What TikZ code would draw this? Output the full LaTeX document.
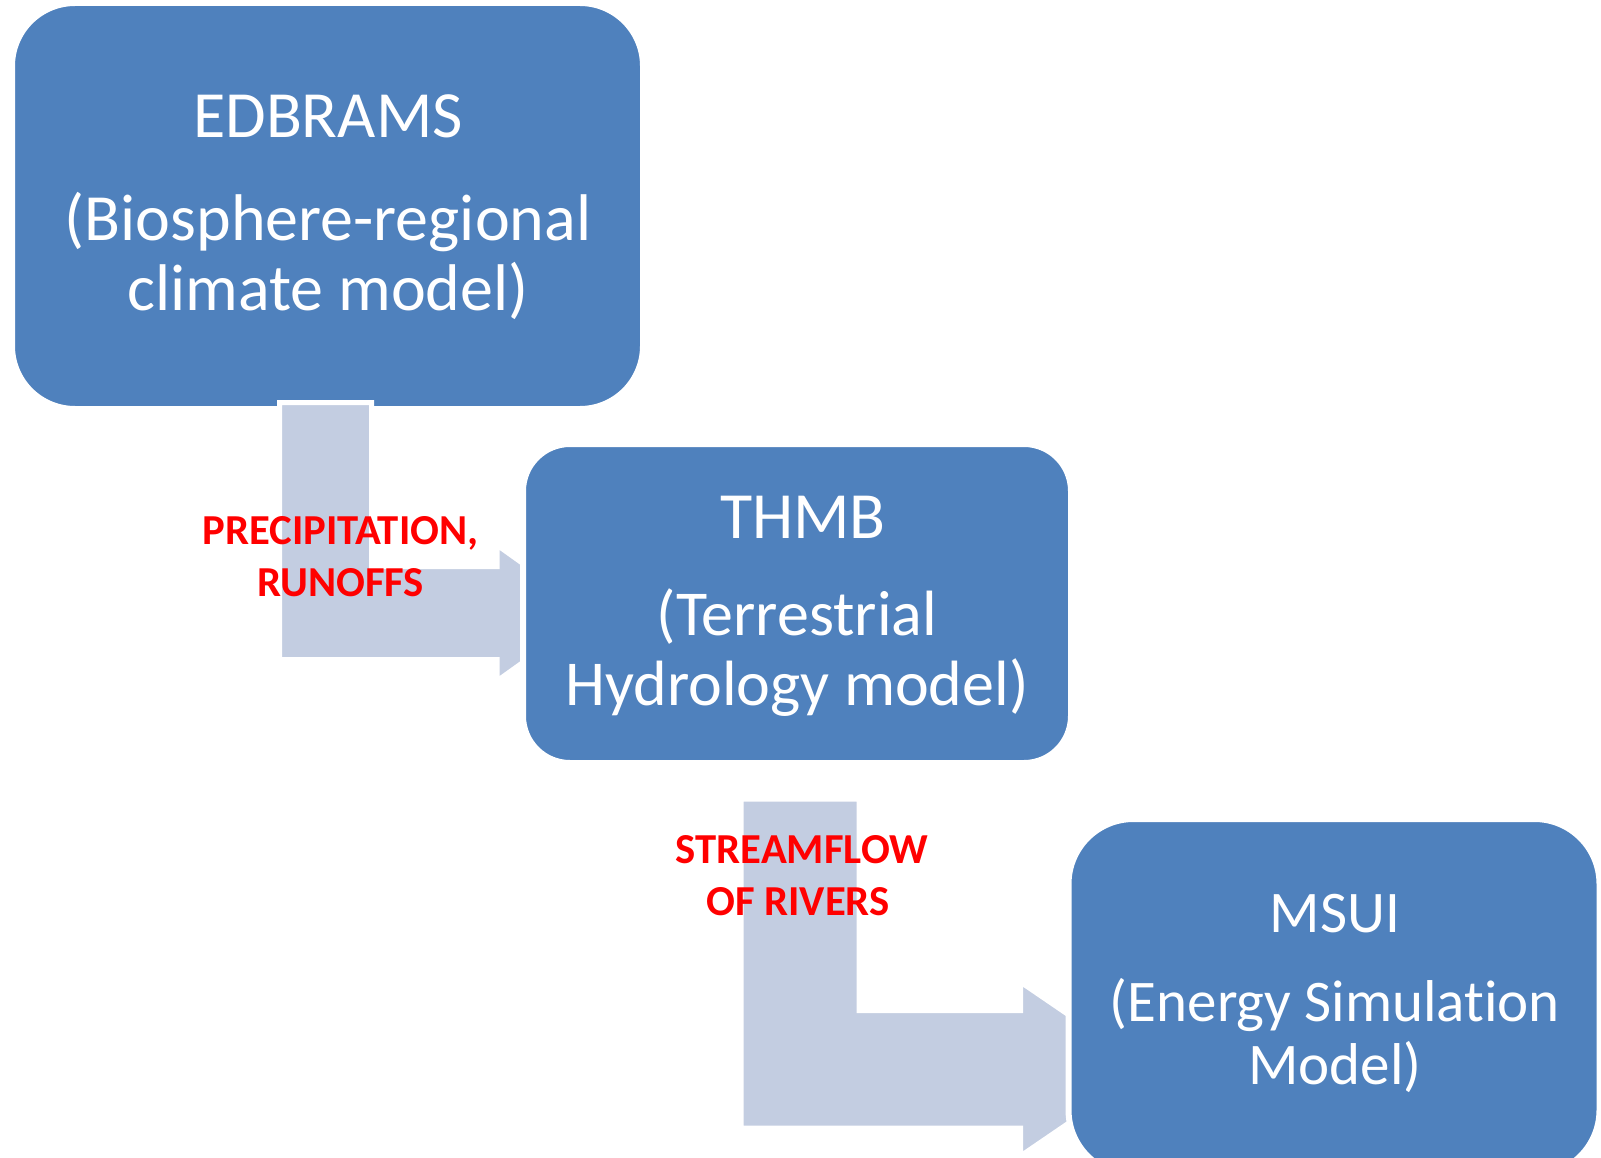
\documentclass[tikz,border=0pt]{standalone}
\usepackage{fontspec}
\setmainfont{Carlito}[Ligatures={NoCommon}]
\definecolor{boxblue}{HTML}{4F81BD}
\definecolor{arrowfill}{HTML}{C3CDE1}
\definecolor{labelred}{HTML}{FF0000}
\begin{document}
\begin{tikzpicture}[x=1pt,y=-1pt]
\tikzset{
  modelbox/.style={rectangle, fill=boxblue, draw=white, line width=6pt, inner sep=0pt},
  boxtext/.style={text=white, anchor=base, inner sep=0pt, font=\fontsize{66}{70}\selectfont},
  boxtextm/.style={boxtext, font=\fontsize{64}{70}\selectfont},
  boxtexts/.style={boxtext, font=\fontsize{59}{63}\selectfont},
  flowlabel/.style={text=labelred, anchor=base, inner sep=0pt, font=\fontsize{42.7}{50}\selectfont\bfseries},
  blockarrow/.style={fill=arrowfill, draw=white, line width=5pt, line join=miter},
}
\useasboundingbox (0,0) rectangle (1601,1158);
\fill[white] (0,0) rectangle (1601,1158);

% box 1
\node[modelbox, rounded corners=63pt, minimum width=631pt, minimum height=406pt] (b1) at (327.5,206) {};

% arrow 1
\path[blockarrow] (279.5,402.5) -- (371.5,402.5) -- (371.5,566.5) -- (497,566.5) -- (497,545)
  -- (592,613) -- (497,681) -- (497,659.5) -- (279.5,659.5) -- cycle;

% arrow 2
\path[blockarrow] (741,799) -- (859,799) -- (859,1010.5) -- (1020.5,1010.5) -- (1020.5,982)
  -- (1148,1069) -- (1020.5,1156) -- (1020.5,1128) -- (741,1128) -- cycle;

% box 2
\node[modelbox, rounded corners=47pt, minimum width=548pt, minimum height=319pt] (b2) at (797,603.5) {};

% box 3
\node[modelbox, rounded corners=65pt, minimum width=531pt, minimum height=356pt] (b3) at (1334,997) {};

% texts
\node[boxtext] (t1a) at (328,138) {EDBRAMS};
\node[boxtext] (t1b) at (328,241) {(Biosphere-regional};
\node[boxtext] (t1c) at (328,311) {climate model)};

\node[boxtext] (t2a) at (803,538) {THMB};
\node[boxtextm] (t2b) at (797,635) {(Terrestrial};
\node[boxtextm] (t2c) at (797,705) {Hydrology model)};

\node[boxtexts] (t3a) at (1335,932) {MSUI};
\node[boxtexts] (t3b) at (1335,1021) {(Energy Simulation};
\node[boxtexts] (t3c) at (1335,1084) {Model)};

\node[flowlabel] (l1a) at (340.5,544) {PRECIPITATION,};
\node[flowlabel] (l1b) at (340.5,596) {RUNOFFS};
\node[flowlabel] (l2a) at (802,863) {STREAMFLOW};
\node[flowlabel] (l2b) at (798,915) {OF RIVERS};
\end{tikzpicture}
\end{document}
